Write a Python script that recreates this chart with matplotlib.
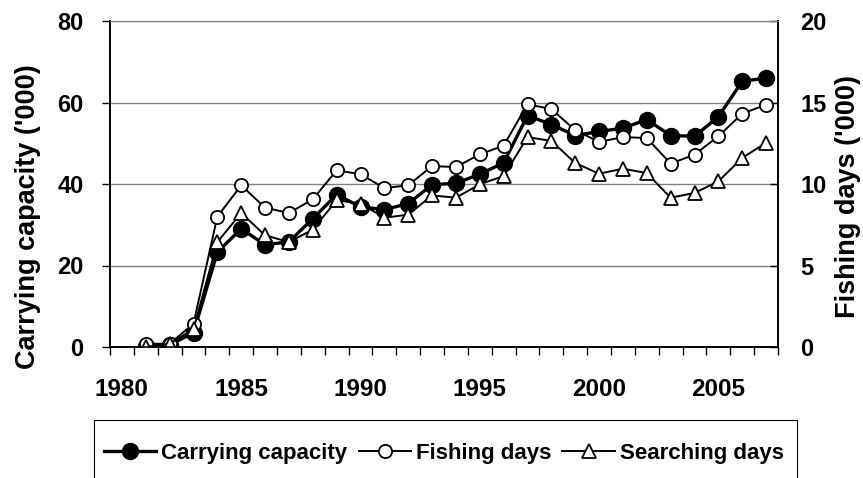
import matplotlib
matplotlib.use("Agg")
import matplotlib.pyplot as plt
from matplotlib.patches import Rectangle
from matplotlib.ticker import MultipleLocator, FixedLocator

plt.rcParams["font.family"] = ["Liberation Sans", "DejaVu Sans"]
plt.rcParams["font.weight"] = "bold"

years = list(range(1981, 2008))

carrying_capacity = [0.2, 0.5, 3.5, 23.3, 29.0, 25.1, 25.8, 31.5, 37.4, 34.4,
                     33.7, 35.2, 39.8, 40.2, 42.4, 45.2, 56.8, 54.6, 51.9, 52.9,
                     53.7, 55.8, 51.9, 51.7, 56.5, 65.2, 66.0]

fishing_days = [0.2, 0.2, 1.43, 8.0, 9.92, 8.55, 8.22, 9.06, 10.84, 10.6,
                9.75, 9.92, 11.1, 11.04, 11.82, 12.35, 14.89, 14.6, 13.3, 12.58,
                12.88, 12.82, 11.25, 11.8, 12.93, 14.31, 14.87]

searching_days = [0.0, 0.2, 1.1, 6.44, 8.22, 6.85, 6.44, 7.2, 9.0, 8.8,
                  7.93, 8.12, 9.3, 9.16, 9.98, 10.49, 12.88, 12.64, 11.29, 10.63,
                  10.94, 10.67, 9.16, 9.45, 10.16, 11.6, 12.53]

W, H = 863, 478
fig = plt.figure(figsize=(W / 100, H / 100), dpi=100)
ax = fig.add_axes([110 / W, 1 - 347 / H, 668 / W, 326 / H])
ax2 = ax.twinx()

l1, = ax.plot(years, carrying_capacity, color="black", lw=2.4, marker="o",
              ms=11.5, mfc="black", mec="black", label="Carrying capacity")
l2, = ax2.plot(years, fishing_days, color="black", lw=1.4, marker="o",
               ms=9.5, mfc="white", mec="black", mew=1.3, label="Fishing days")
l3, = ax2.plot(years, searching_days, color="black", lw=1.4, marker="^",
               ms=10, mfc="white", mec="black", mew=1.3, label="Searching days")

ax.set_xlim(1979.5, 2007.5)
ax.set_ylim(0, 80)
ax2.set_ylim(0, 20)

ax.yaxis.set_major_locator(MultipleLocator(20))
ax2.yaxis.set_major_locator(MultipleLocator(5))
ax.xaxis.set_major_locator(FixedLocator([1980, 1985, 1990, 1995, 2000, 2005]))
ax.xaxis.set_minor_locator(FixedLocator([y + 0.5 for y in range(1979, 2008)]))

ax.grid(axis="y", color="#808080", lw=1.0)
ax.set_axisbelow(True)

ax.tick_params(axis="x", which="major", length=0, pad=22, labelsize=17.5)
ax.tick_params(axis="x", which="minor", length=6, width=1)
ax.tick_params(axis="y", length=6, width=1, pad=13, labelsize=17)
ax2.tick_params(axis="y", direction="in", length=6, width=1, pad=16, labelsize=17)

for a in (ax, ax2):
    a.spines["top"].set_color("#808080")
    a.spines["left"].set_linewidth(1.2)
    a.spines["bottom"].set_linewidth(1.2)
    a.spines["right"].set_linewidth(1.2)

fig.text(28 / W, 1 - 217 / H, "Carrying capacity ('000)", rotation=90,
         ha="center", va="center", fontsize=19.5, fontweight="bold")
fig.text(848 / W, 1 - 197 / H, "Fishing days ('000)", rotation=90,
         ha="center", va="center", fontsize=19.5, fontweight="bold")

# legend box runs off the bottom of the image
fig.add_artist(Rectangle((94 / W, -0.05), 703 / W, (1 - 420 / H) + 0.05,
                         transform=fig.transFigure, fill=False,
                         edgecolor="black", lw=0.8))
fig.legend(handles=[l1, l2, l3], loc="center left",
           bbox_to_anchor=(104 / W, 1 - 453 / H),
           bbox_transform=fig.transFigure, ncol=3, frameon=False,
           fontsize=16, handlelength=2.35, handletextpad=0.23,
           columnspacing=0.5, borderpad=0, borderaxespad=0)

fig.savefig("out.png", dpi=100)
